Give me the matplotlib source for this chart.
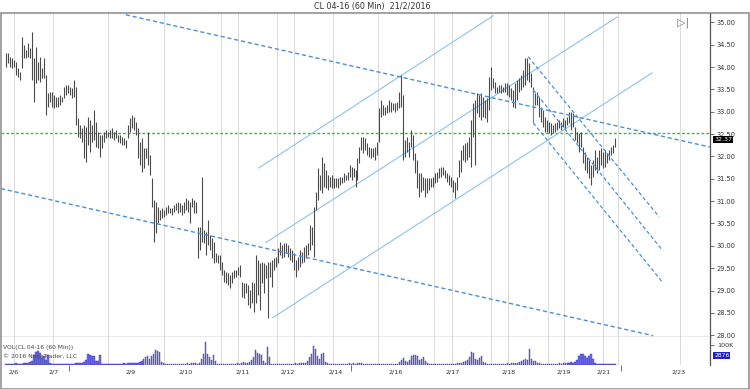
import numpy as np
import matplotlib
matplotlib.use("Agg")
import matplotlib.pyplot as plt
import matplotlib.transforms as mtransforms
from matplotlib.patches import Rectangle

# hourly bar highs / lows (CL 04-16)
highs = [
    34.32, 34.32, 34.23, 34.21, 34.16, 34.12, 33.98, 33.89, 34.68, 34.50,
    34.38, 34.54, 34.43, 34.79, 34.21, 34.45, 34.12, 34.23, 33.98, 34.21,
    33.83, 33.42, 33.45, 33.45, 33.38, 33.33, 33.33, 33.38, 33.33, 33.56,
    33.60, 33.60, 33.56, 33.53, 33.71, 33.56, 32.86, 32.71, 32.64, 32.71,
    32.66, 32.89, 32.82, 32.71, 33.04, 32.77, 32.55, 32.48, 32.48, 32.55,
    32.60, 32.55, 32.60, 32.64, 32.55, 32.60, 32.48, 32.48, 32.44, 32.42,
    32.37, 32.71, 32.86, 32.93, 32.89, 32.77, 32.64, 32.33, 32.42, 32.19,
    32.19, 32.55, 32.04, 31.52,
    31.03, 30.98, 30.87, 30.81, 30.85, 30.81, 30.87, 30.92, 30.85, 30.85,
    30.92, 30.96, 30.98, 30.96, 30.92, 30.98, 31.07, 31.03, 30.98, 31.07,
    31.03, 30.98, 30.42, 30.42, 31.54, 30.36, 30.31, 30.58, 30.25, 30.18,
    30.09, 29.84, 29.80, 29.80, 29.64, 29.46, 29.42, 29.40, 29.35, 29.42,
    29.46, 29.46, 29.53, 29.58, 29.19, 29.17, 29.17, 29.13, 29.02, 29.19,
    29.17, 29.80, 29.69, 29.62, 29.64, 29.62, 29.58, 29.64, 29.64, 29.69,
    29.73, 29.75, 29.95, 30.09, 30.02, 30.07, 30.07, 30.02, 29.95, 29.91,
    29.84, 29.69, 29.75, 29.91, 29.87, 29.98, 30.02, 30.07, 30.47, 30.42,
    30.87, 31.21,
    31.74, 31.59, 31.99, 31.86, 31.70, 31.59, 31.54, 31.59, 31.52, 31.52,
    31.52, 31.54, 31.54, 31.63, 31.59, 31.66, 31.81, 31.77, 31.74, 31.70,
    31.97, 32.21, 32.44, 32.44, 32.42, 32.30, 32.21, 32.19, 32.19, 32.21,
    32.33, 33.09, 33.27, 33.15, 33.11, 33.15, 33.27, 33.22, 33.20, 33.20,
    33.22, 33.45, 33.83, 33.38, 32.37, 32.44, 32.33, 32.60, 32.48, 32.08,
    31.92, 31.63, 31.63, 31.54, 31.52, 31.52, 31.52, 31.52, 31.54, 31.63,
    31.66, 31.74, 31.77, 31.77, 31.70, 31.63, 31.59, 31.54, 31.48, 31.43,
    31.54, 31.92, 32.15, 32.26, 32.30, 32.33, 32.44, 32.82, 33.20, 33.27,
    33.42,
    33.38, 33.42, 33.33, 33.27, 33.31, 33.78, 34.00, 33.76, 33.67, 33.56,
    33.60, 33.60, 33.56, 33.65, 33.65, 33.60, 33.53, 33.49, 33.65, 33.71,
    33.76, 33.83, 33.94, 34.21, 34.21, 34.09, 33.87, 33.56, 33.42, 33.45,
    33.33, 33.11, 33.04, 32.89, 32.82, 32.77, 32.75, 32.71, 32.75, 32.77,
    32.82, 32.77, 32.86, 32.82, 32.89, 33.00, 33.00, 32.98, 32.66, 32.55,
    32.53, 32.55, 32.21, 32.10, 31.99, 31.92, 31.81, 31.92, 32.15, 31.99,
    32.15, 32.19, 32.10, 32.15, 32.08, 32.15, 32.21, 32.26, 32.42,
]
lows = [
    34.00, 34.09, 34.00, 33.98, 34.00, 33.83, 33.78, 33.71, 33.98, 34.21,
    34.21, 34.23, 34.21, 33.71, 33.22, 33.65, 33.71, 33.67, 33.76, 33.76,
    32.93, 33.11, 33.22, 33.11, 33.09, 33.11, 33.11, 33.15, 33.22, 33.31,
    33.38, 33.42, 33.38, 33.31, 33.33, 32.71, 32.44, 32.42, 32.33, 31.97,
    31.88, 32.26, 32.10, 32.33, 32.37, 32.21, 32.19, 31.99, 32.19, 32.33,
    32.42, 32.44, 32.42, 32.42, 32.37, 32.42, 32.33, 32.30, 32.26, 32.26,
    32.19, 32.42, 32.55, 32.64, 32.60, 32.48, 31.97, 31.81, 31.66, 31.75,
    31.97, 31.81, 31.59, 30.87,
    30.09, 30.29, 30.51, 30.58, 30.63, 30.65, 30.69, 30.74, 30.74, 30.69,
    30.76, 30.81, 30.74, 30.76, 30.69, 30.74, 30.81, 30.76, 30.51, 30.87,
    30.74, 30.74, 29.73, 29.91, 30.09, 30.07, 29.80, 30.02, 29.91, 29.73,
    29.62, 29.64, 29.62, 29.46, 29.35, 29.19, 29.17, 29.13, 29.06, 29.17,
    29.28, 29.31, 29.35, 29.31, 28.86, 28.84, 28.95, 28.68, 28.61, 28.72,
    28.52, 28.72, 28.90, 28.57, 29.17, 28.95, 29.28, 28.39, 29.31, 29.08,
    29.46, 29.53, 29.62, 29.80, 29.73, 29.75, 29.84, 29.75, 29.69, 29.64,
    29.46, 29.31, 29.46, 29.53, 29.62, 29.64, 29.73, 29.80, 29.91, 30.02,
    29.75, 30.81,
    31.03, 31.25, 31.19, 31.32, 31.30, 31.25, 31.32, 31.30, 31.30, 31.32,
    31.30, 31.37, 31.41, 31.43, 31.48, 31.48, 31.54, 31.48, 31.54, 31.32,
    31.48, 31.86, 32.15, 32.08, 32.15, 32.04, 31.99, 31.97, 31.99, 31.92,
    32.04, 32.33, 32.89, 32.93, 32.93, 32.98, 33.00, 33.00, 33.04, 33.00,
    33.04, 33.09, 33.11, 31.92, 31.99, 32.10, 31.99, 32.21, 31.92, 31.63,
    31.30, 31.10, 31.21, 31.25, 31.10, 31.19, 31.25, 31.32, 31.32, 31.41,
    31.43, 31.52, 31.54, 31.59, 31.52, 31.43, 31.37, 31.32, 31.21, 31.07,
    31.25, 31.54, 31.66, 31.92, 31.88, 31.92, 31.99, 31.77, 32.44, 31.81,
    32.98,
    32.89, 32.82, 32.89, 32.86, 32.77, 33.04, 33.49, 33.53, 33.42, 33.42,
    33.45, 33.42, 33.45, 33.45, 33.38, 33.33, 33.27, 33.11, 33.09, 33.27,
    33.45, 33.49, 33.56, 33.60, 33.71, 33.67, 33.56, 33.31, 33.15, 33.15,
    32.89, 32.77, 32.66, 32.55, 32.55, 32.53, 32.48, 32.53, 32.55, 32.60,
    32.64, 32.60, 32.66, 32.64, 32.71, 32.75, 32.60, 32.66, 32.37, 32.30,
    32.10, 32.21, 31.86, 31.70, 31.63, 31.52, 31.37, 31.54, 31.70, 31.63,
    31.70, 31.81, 31.74, 31.77, 31.86, 31.92, 32.04, 32.08, 32.21,
]
# volume per bar, thousands of contracts
volume_k = [
    6, 5, 7, 5, 6, 8, 5, 6, 7, 8, 10, 12, 15,
    20, 50, 65, 70, 60, 35, 45, 25, 50,
    8, 5, 4, 3, 4, 3, 5, 4, 3, 4, 5, 6,
    5, 8, 10, 8, 10, 15, 25, 55, 50, 45, 45, 20, 20, 50, 5, 3,
    3, 4, 3, 4, 5, 4, 6, 5, 7, 8, 7, 9, 10, 8,
    10, 12, 10, 15, 22, 28, 40, 45, 30, 45, 58, 76, 72, 65, 15, 8, 5,
    4, 3, 5, 4, 3, 4, 5, 6, 5, 7, 8, 6, 9, 8, 10,
    6, 10, 30, 58, 116, 58, 40, 25, 49, 18, 6,
    5, 4, 6, 5, 4, 6, 5, 7, 6, 8, 7,
    10, 15, 8, 10, 15, 25, 40, 75, 60, 58, 49, 20, 8, 93, 40, 6, 4, 3,
    4, 3, 5, 4, 5, 6, 5, 7, 6, 8, 7, 9,
    8, 8, 12, 18, 40, 55, 96, 80, 45, 30, 55, 62, 15, 8, 5,
    4, 3, 5, 4, 6, 5, 4, 7, 6, 8, 7, 8, 6, 9, 10, 8, 7, 5, 4, 6,
    5, 4, 3, 5, 4, 6, 5, 4, 3, 4, 5, 4, 6, 5,
    14, 26, 35, 20, 14, 26, 45, 49, 49, 45, 26, 32, 40, 22, 10, 6,
    4, 3, 3, 4, 5, 4, 3, 4, 5, 6, 5, 7, 6, 8, 10, 10, 14,
    18, 26, 40, 66, 60, 30, 26, 36, 45, 14, 10, 5, 4, 3,
    3, 4, 5, 4, 6, 5, 6, 8, 7, 10, 8, 10, 12, 15,
    20, 26, 32, 26, 80, 32, 22, 18, 12, 8, 5, 4, 3,
    3, 4, 3, 5, 6, 5, 8, 7, 10, 8, 12, 10, 14, 12, 15,
    26, 45, 55, 55, 45, 36, 45, 58, 30, 8, 5, 4, 3, 4, 3, 3, 4, 3, 5, 3,
]

last_price = 32.37
last_volume = "2876"
level_price = 32.53

# session grid lines and date labels, in bar units
grid_pos = [4, 23.5, 51, 79, 107.5, 116, 135.5, 144, 163.5, 186.5, 214.5,
            223.5, 243, 251.5, 271.5, 279.5, 299, 306.5, 337.5]
date_pos = [4, 24, 62.5, 90, 118.5, 141, 165, 195, 223.5, 251.5, 279.5, 299.5, 337]
date_labels = ["2/6", "2/7", "2/9", "2/10", "2/11", "2/12", "2/14",
               "2/16", "2/17", "2/18", "2/19", "2/21", "2/23"]
minor_pos = [31.5, 172.5, 308]

# drawn trend lines: ((bar, price), (bar, price))
long_dashed = [((60, 35.17), (352.5, 32.21)), ((-2.5, 31.28), (324, 27.99))]
up_channel = [((126.5, 31.74), (244, 35.15)), ((130, 30.07), (306, 35.12)),
              ((133.5, 28.39), (323.5, 33.87))]
down_channel = [((261.5, 34.23), (327, 30.65)), ((264, 33.49), (328.5, 29.91)),
                ((264, 32.75), (329, 29.17))]

n = min(len(highs), len(lows), len(volume_k))
x = np.arange(n)

W, H = 750, 389
fig = plt.figure(figsize=(7.5, 3.89), dpi=100)


def fx(px):
    return px / W


def fy(py):
    return 1 - py / H


ax = fig.add_axes([fx(1), fy(337), fx(710) - fx(1), fy(13) - fy(337)])
axv = fig.add_axes([fx(1), fy(365), fx(710) - fx(1), fy(337) - fy(365)])

for a in (ax, axv):
    a.set_xlim(-2.5, 352.5)
    for g in grid_pos:
        a.axvline(g, color="#dadada", lw=0.7, zorder=0)
    for s in ("left", "top"):
        a.spines[s].set_visible(False)
    a.spines["right"].set_color("#555555")
    a.spines["right"].set_linewidth(0.9)

ax.vlines(x, lows[:n], highs[:n], color="#4a4a4a", lw=0.8, zorder=3)
ax.set_ylim(27.96, 35.21)
ax.axhline(level_price, color="#2fbf2f", lw=1.0, ls=(0, (2, 1.5)), zorder=2)

for (x0, y0), (x1, y1) in long_dashed:
    ax.plot([x0, x1], [y0, y1], color="#4a90d8", lw=1.0, ls=(0, (3, 2)), zorder=4)
for (x0, y0), (x1, y1) in up_channel:
    ax.plot([x0, x1], [y0, y1], color="#8cc3ec", lw=0.8, zorder=2)
for (x0, y0), (x1, y1) in down_channel:
    ax.plot([x0, x1], [y0, y1], color="#4a90d8", lw=0.9, ls=(0, (3, 2)), zorder=4)
ax.plot([down_channel[1][0][0]] * 2, [down_channel[1][0][1], down_channel[2][0][1]],
        color="#4a90d8", lw=0.8, zorder=4)

ax.set_xticks([])
ax.yaxis.tick_right()
ax.set_yticks(np.arange(28, 35.01, 0.5))
ax.set_yticklabels(["%.2f" % v for v in np.arange(28, 35.01, 0.5)])
ax.tick_params(axis="y", labelsize=4.8, labelcolor="#333333", length=3,
               width=0.6, color="#555555", pad=2)
ax.spines["bottom"].set_color("#666666")
ax.spines["bottom"].set_linewidth(0.9)

blend = mtransforms.blended_transform_factory(ax.transAxes, ax.transData)
ax.text(1.006, last_price, "%.2f" % last_price, transform=blend, fontsize=4.6,
        color="white", va="center", ha="left", zorder=10,
        bbox=dict(boxstyle="square,pad=0.15", fc="black", ec="none"))

# volume panel
axv.bar(x, volume_k[:n], width=0.7, color="#7272e6", edgecolor="#3636a8",
        lw=0.3, zorder=3)
axv.set_ylim(0, 142)
axv.yaxis.tick_right()
axv.set_yticks([100])
axv.set_yticklabels(["100K"])
axv.tick_params(axis="y", labelsize=4.6, labelcolor="#333333", length=3,
                width=0.6, color="#555555", pad=2)
axv.spines["bottom"].set_visible(False)
axv.set_xticks(date_pos)
axv.set_xticklabels(date_labels)
axv.set_xticks(minor_pos, minor=True)
axv.tick_params(axis="x", which="major", length=0, labelsize=4.6,
                labelcolor="#333333", pad=3)
axv.tick_params(axis="x", which="minor", length=4, width=0.6, color="#555555")
axv.text(0.003, 0.62, "VOL(CL 04-16 (60 Min))", transform=axv.transAxes,
         fontsize=4.3, color="#444444", va="center")
axv.text(0.003, 0.33, "© 2016 NinjaTrader, LLC", transform=axv.transAxes,
         fontsize=4.3, color="#444444", va="center")
axv.text(1.006, 0.35, last_volume, transform=axv.transAxes, fontsize=4.3,
         color="white", va="center", ha="left",
         bbox=dict(boxstyle="square,pad=0.15", fc="#2020d0", ec="none"))

fig.text(fx(372), fy(7), "CL 04-16 (60 Min)  21/2/2016", ha="center",
         va="center", fontsize=5.8, color="#333333")
fig.text(fx(683), fy(23), "▷|", ha="center", va="center", fontsize=8,
         color="#777777")
fig.add_artist(Rectangle((fx(0.5), fy(388.5)), fx(748.5) - fx(0.5),
                         fy(13) - fy(388.5), transform=fig.transFigure,
                         fill=False, ec="#8a8a8a", lw=1.1))

fig.savefig("out.png", dpi=100, facecolor="white")
